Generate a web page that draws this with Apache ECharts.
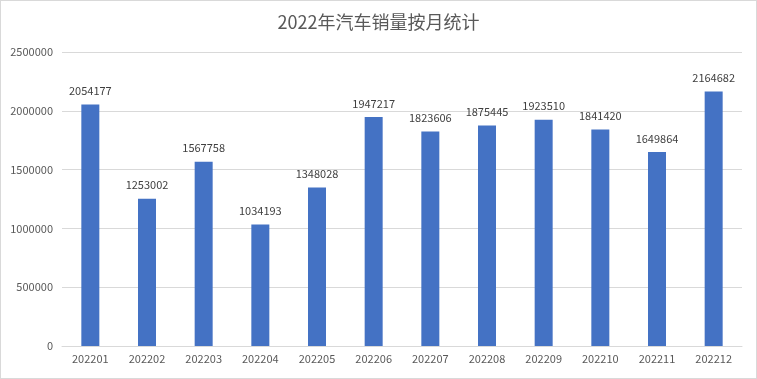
<!DOCTYPE html>
<html><head><meta charset="utf-8">
<script src="https://cdn.jsdelivr.net/npm/echarts@6/dist/echarts.min.js"></script>
<style>
html,body{margin:0;padding:0;background:#fff;}
#c{width:757px;height:379px;box-sizing:border-box;border:1px solid #d9d9d9;}
</style></head>
<body><div id="c"></div>
<script>
var categories = ['202201','202202','202203','202204','202205','202206','202207','202208','202209','202210','202211','202212'];
var sales = [2054177,1253002,1567758,1034193,1348028,1947217,1823606,1875445,1923510,1841420,1649864,2164682];
var titleText = '2022年汽车销量按月统计';

var chart = echarts.init(document.getElementById('c'));
var font = '"Noto Sans CJK SC", "Noto Sans", sans-serif';
chart.setOption({
  animation: false,
  title: {text: titleText, left: 'center', top: 7,
    textStyle: {fontFamily: font, fontSize: 18, fontWeight: 'normal', color: '#595959'}},
  grid: {left: 61, right: 14, top: 51, bottom: 32, containLabel: false},
  xAxis: {type: 'category', data: categories,
    axisLine: {lineStyle: {color: '#d9d9d9'}}, axisTick: {show: false},
    axisLabel: {color: '#595959', fontFamily: font, fontSize: 11, margin: 7}},
  yAxis: {type: 'value', min: 0, max: 2500000, interval: 500000,
    axisLine: {show: false}, axisTick: {show: false},
    splitLine: {lineStyle: {color: '#d9d9d9'}},
    axisLabel: {color: '#595959', fontFamily: font, fontSize: 11, margin: 9,
      formatter: function (v) { return String(v); }}},
  series: [{type: 'bar', data: sales, barWidth: 18,
    itemStyle: {color: '#4472c4'},
    label: {show: true, position: 'top', distance: 8, color: '#404040', fontFamily: font, fontSize: 11}}]
});
</script></body></html>
